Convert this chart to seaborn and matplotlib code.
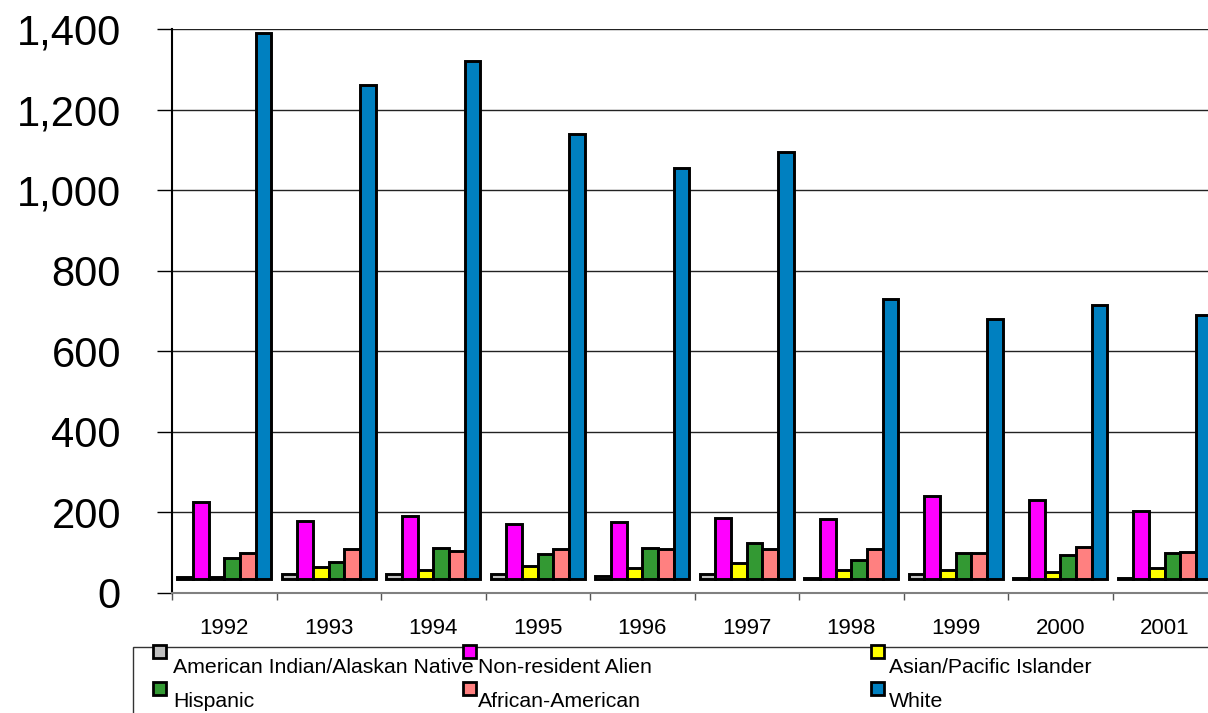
import matplotlib
matplotlib.use("Agg")
import matplotlib.pyplot as plt
import matplotlib.ticker as mticker
from matplotlib.patches import Rectangle
import numpy as np
import pandas as pd
import seaborn as sb

# data (bar tops)
years = ['1992', '1993', '1994', '1995', '1996', '1997', '1998', '1999', '2000', '2001']
groups = ['American Indian/Alaskan Native', 'Non-resident Alien', 'Asian/Pacific Islander',
          'Hispanic', 'African-American', 'White']
am_indian = [40, 48, 46, 47, 42, 46, 38, 46, 38, 38]
non_resident = [227, 178, 190, 172, 177, 187, 183, 240, 231, 203]
asian_pacific = [40, 64, 56, 67, 62, 74, 57, 56, 53, 63]
hispanic = [86, 78, 112, 97, 112, 125, 82, 99, 95, 100]
african_american = [100, 108, 105, 108, 110, 109, 109, 99, 115, 103]
white = [1390, 1261, 1320, 1139, 1054, 1094, 731, 681, 716, 689]
colors = ['#C0C0C0', '#FF00FF', '#FFFF00', '#339933', '#FF8080', '#0080C0']

# the bars in the original sit on a floor slightly above zero
floor = 35

series = [am_indian, non_resident, asian_pacific, hispanic, african_american, white]
rows = []
for name, vals in zip(groups, series):
    for yr, v in zip(years, vals):
        rows.append({'year': yr, 'group': name, 'height': v - floor})
df = pd.DataFrame(rows)

sb.set_style('white')
plt.rcParams['font.family'] = ['Liberation Sans', 'DejaVu Sans']
plt.rcParams['text.color'] = 'black'
plt.rcParams['xtick.color'] = 'black'
plt.rcParams['ytick.color'] = 'black'
plt.rcParams['xtick.labelcolor'] = 'black'
plt.rcParams['ytick.labelcolor'] = 'black'

W, H = 1208, 713
fig = plt.figure(figsize=(W / 100, H / 100), dpi=100)
ax = fig.add_axes([172 / W, 1 - 593 / H, 1045 / W, 564 / H])

sb.barplot(data=df, x='year', y='height', hue='group', hue_order=groups,
           palette=colors, order=years, width=0.9, gap=0, errorbar=None,
           bottom=floor, edgecolor='black', linewidth=2.1, saturation=1,
           legend=False, ax=ax)

ax.set_ylim(0, 1400)
ax.set_xlim(-0.5, len(years) - 0.5)
ax.set_xlabel('')
ax.set_ylabel('')

ax.set_yticks(np.arange(0, 1401, 200))
ax.yaxis.set_major_formatter(mticker.StrMethodFormatter('{x:,.0f}'))
ax.tick_params(axis='y', labelsize=30, length=10.8, width=1, color='black',
               labelcolor='black', pad=26, left=True)
ax.yaxis.grid(True, color='#222222', linewidth=1)
ax.set_axisbelow(True)

# year labels centred, tick marks on the category boundaries
ax.set_xticks(np.arange(-0.5, len(years), 1))
ax.set_xticklabels([])
ax.set_xticks(np.arange(len(years)), minor=True)
ax.set_xticklabels(years, minor=True)
ax.tick_params(axis='x', which='major', length=5, width=1, color='#555555', bottom=True)
ax.tick_params(axis='x', which='minor', length=0, labelsize=16, pad=18, labelcolor='black')

for s in ['top', 'right']:
    ax.spines[s].set_visible(False)
ax.spines['left'].set_color('black')
ax.spines['left'].set_linewidth(1.5)
ax.spines['bottom'].set_color('#808080')
ax.spines['bottom'].set_linewidth(1.5)

# legend laid out like the original (marker sits above-left of its text)
def fx(px):
    return px / W

def fy(py):
    return 1 - py / H

fig.add_artist(Rectangle((fx(133), fy(725)), fx(1090), (725 - 647) / H,
                         transform=fig.transFigure, facecolor='white',
                         edgecolor='#333333', linewidth=1, clip_on=False))
col_marker = [153, 463, 871]
col_text = [173, 478, 889]
row_marker = [645, 682]
row_text = [673, 707]
for i, (name, col) in enumerate(zip(groups, colors)):
    r, c = divmod(i, 3)
    fig.add_artist(Rectangle((fx(col_marker[c]), fy(row_marker[r] + 13)), 13 / W, 13 / H,
                             transform=fig.transFigure, facecolor=col,
                             edgecolor='black', linewidth=2))
    fig.text(fx(col_text[c]), fy(row_text[r]), name, fontsize=15.3, va='baseline',
             ha='left', color='black')

fig.savefig('out.png', dpi=100)
